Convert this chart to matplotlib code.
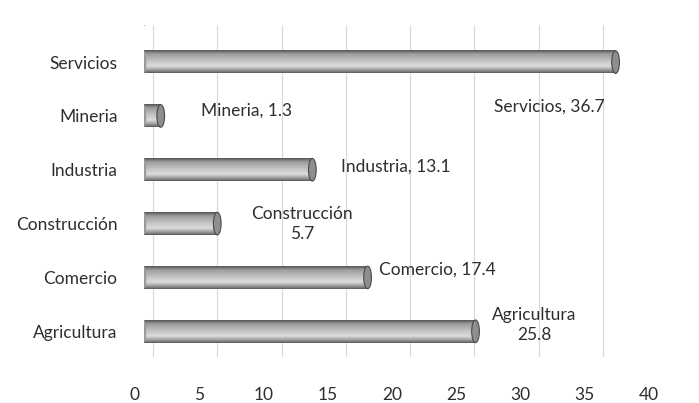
import numpy as np
import matplotlib.pyplot as plt
import matplotlib.transforms as mtransforms
from matplotlib.colors import LinearSegmentedColormap
from matplotlib.patches import Ellipse

plt.rcParams['font.family'] = ['Lato', 'DejaVu Sans']

# datos
sectores = ['Agricultura', 'Comercio', 'Construcción', 'Industria', 'Mineria', 'Servicios']
valores = [25.8, 17.4, 5.7, 13.1, 1.3, 36.7]
etiquetas = ['Agricultura\n25.8', 'Comercio, 17.4', 'Construcción\n5.7',
             'Industria, 13.1', 'Mineria, 1.3', 'Servicios, 36.7']
ticks_x = [0, 5, 10, 15, 20, 25, 30, 35, 40]

# desplazamiento de cada etiqueta respecto al extremo de la barra (px)
offsets = [(59, 6, 'center'), (11, 8, 'left'), (85, 0, 'center'),
           (29, 3, 'left'), (40, 5, 'left'), (-66, -44, 'center')]

fs = 12.5
gris = '#2e2e2e'

fig = plt.figure(figsize=(6.99, 4.03), dpi=100)
ax = fig.add_axes([144/699, 33/403, 514/699, 345/403])

xmax = 40
ax.set_xlim(0, xmax)
ax.set_ylim(-0.72, 5.69)

# gradiente de cilindro
cmap = LinearSegmentedColormap.from_list('cil', [
    (0.0, '#5a5a5a'), (0.12, '#9a9a9a'), (0.3, '#dcdcdc'),
    (0.55, '#c2c2c2'), (0.85, '#9a9a9a'), (1.0, '#555555')])
grad = np.linspace(0, 1, 64).reshape(-1, 1)
alto = 0.42

# rejilla (pared del fondo, desplazada)
fondo = mtransforms.offset_copy(ax.get_xaxis_transform(), fig=fig, x=9, y=0, units='dots')
for t in ticks_x:
    ax.plot([t, t], [0.04, 1.0], color='#dadada', lw=0.9, transform=fondo, zorder=0)
# arista izquierda de la pared
izq = mtransforms.offset_copy(ax.get_xaxis_transform(), fig=fig, x=-8, y=0, units='dots')
ax.plot([0, 0], [0.07, 0.975], color='#d6d6d6', lw=1.0, transform=izq, zorder=0)
ax.plot([0, 0.65], [0.975, 1.0], color='#b0b0b0', lw=1.2, transform=izq, zorder=0)

for i, (s, v) in enumerate(zip(sectores, valores)):
    y0 = i - alto / 2
    y1 = i + alto / 2
    ax.imshow(grad, cmap=cmap, aspect='auto', extent=[0, v, y1, y0],
              interpolation='bilinear', zorder=2)
    ax.add_patch(Ellipse((0, i), 0.35, alto, facecolor='#9a9a9a',
                         edgecolor='none', zorder=2))
    ax.add_patch(Ellipse((v, i), 0.6, alto, facecolor='#8e8e8e',
                         edgecolor='#4a4a4a', lw=0.8, zorder=3))
    dx, dy, ha = offsets[i]
    ax.annotate(etiquetas[i], xy=(v, i), xytext=(dx, dy), textcoords='offset pixels',
                ha=ha, va='center', fontsize=fs, color=gris,
                linespacing=1.3, zorder=4)

ax.set_yticks(range(len(sectores)))
ax.set_yticklabels(sectores, fontsize=fs, color=gris)
ax.set_xticks(ticks_x)
ax.set_xticklabels([str(t) for t in ticks_x], fontsize=fs, color=gris)
ax.tick_params(axis='y', length=0, pad=19)
ax.tick_params(axis='x', length=0, pad=12)
for lbl in ax.get_xticklabels():
    lbl.set_transform(lbl.get_transform() + mtransforms.ScaledTranslation(-9/100, 0, fig.dpi_scale_trans))
for sp in ax.spines.values():
    sp.set_visible(False)

fig.savefig('out.png', dpi=100)
